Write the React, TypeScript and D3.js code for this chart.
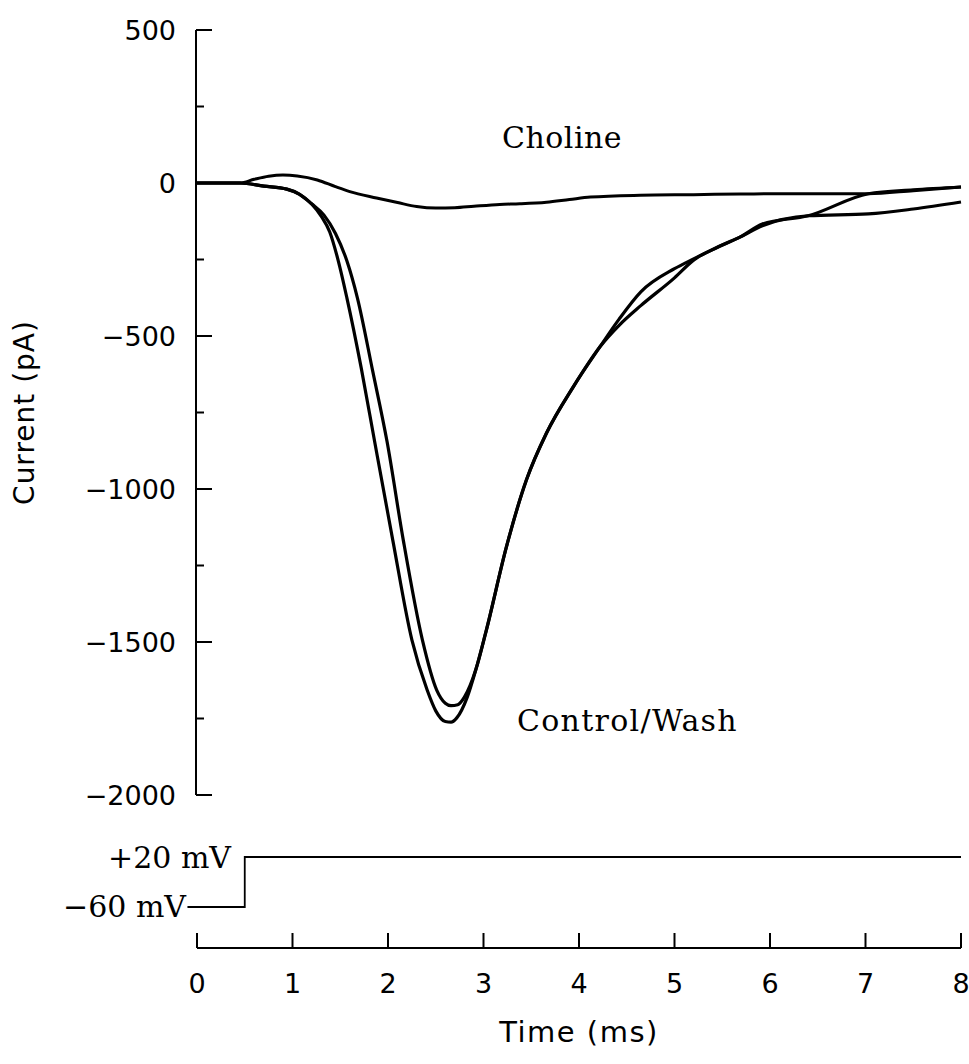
import React from "react";
import * as d3 from "d3";

// ---- Data ----
const controlT = [0, 0.45, 0.7, 0.94, 1.07, 1.2, 1.3, 1.39, 1.48, 1.57, 1.72, 1.86, 2.05, 2.25, 2.41, 2.5, 2.6, 2.66, 2.72, 2.83, 2.92, 3.03, 3.24, 3.45, 3.66, 3.94, 4.22, 4.42, 4.65, 5.0, 5.2, 5.45, 5.69, 5.92, 6.4, 7.03, 7.5, 8.0];
const controlV = [0, 0, -10, -20, -36, -68, -108, -160, -255, -376, -605, -845, -1167, -1493, -1657, -1725, -1760, -1762, -1748, -1680, -1590, -1461, -1189, -970, -817, -666, -535, -445, -355, -280, -248, -210, -176, -134, -107, -35, -22, -13];

const washT = [0, 0.45, 0.7, 0.94, 1.07, 1.2, 1.33, 1.45, 1.57, 1.68, 1.84, 1.99, 2.16, 2.36, 2.51, 2.6, 2.66, 2.73, 2.8, 2.92, 3.03, 3.24, 3.45, 3.66, 3.94, 4.22, 4.42, 4.65, 5.0, 5.2, 5.45, 5.69, 5.92, 6.4, 7.03, 7.5, 8.0];
const washV = [0, 0, -10, -20, -36, -68, -105, -165, -255, -376, -615, -845, -1167, -1493, -1657, -1700, -1708, -1705, -1680, -1590, -1461, -1189, -970, -817, -666, -535, -465, -400, -310, -252, -210, -176, -140, -107, -101, -85, -62];

const cholineT = [0, 0.45, 0.6, 0.75, 0.9, 1.05, 1.26, 1.45, 1.6, 1.88, 2.1, 2.3, 2.5, 2.7, 2.9, 3.17, 3.38, 3.66, 3.9, 4.12, 4.64, 5.2, 5.69, 6.12, 6.6, 7.03, 7.5, 8.0];
const cholineV = [0, 0, 12, 22, 26, 23, 10, -12, -28, -49, -64, -77, -82, -81, -76, -70, -68, -63, -54, -46, -40, -38, -36, -35, -35, -35, -25, -13];

const stepT = [-0.1, 0.5, 0.5, 8.0];
const stepMV = [-60, -60, 20, 20];

const yMajorTicks = [500, 0, -500, -1000, -1500, -2000];
const yMinorTicks = [250, -250, -750, -1250, -1750];
const xTicks = [0, 1, 2, 3, 4, 5, 6, 7, 8];

export default function App() {
  const W = 969, H = 1064;
  const x = d3.scaleLinear().domain([0, 8]).range([197, 961]);
  const y = d3.scaleLinear().domain([-2000, 500]).range([795, 30]);
  const vScale = d3.scaleLinear().domain([-60, 20]).range([907, 857]);
  const xAxisY = 948;
  const yAxisX = 196;

  const line = d3
    .line<[number, number]>()
    .x((d) => x(d[0]))
    .y((d) => y(d[1]))
    .curve(d3.curveMonotoneX);

  const zip = (t: number[], v: number[]) => t.map((ti, i) => [ti, v[i]] as [number, number]);

  const stepLine = d3
    .line<[number, number]>()
    .x((d) => x(d[0]))
    .y((d) => vScale(d[1]));

  const sans = "'DejaVu Sans', sans-serif";
  const serif = "'DejaVu Serif', serif";

  return (
    <svg
      width={W}
      height={H}
      viewBox={`0 0 ${W} ${H}`}
      style={{ position: "absolute", left: 0, top: 0, background: "#fff" }}
    >
      <rect x={0} y={0} width={W} height={H} fill="#fff" />
      {/* Y axis */}
      <line x1={yAxisX} x2={yAxisX} y1={y(500)} y2={y(-2000)} stroke="#000" strokeWidth={2} />
      {yMajorTicks.map((v) => (
        <g key={"ym" + v}>
          <line x1={yAxisX} x2={yAxisX + 16} y1={y(v)} y2={y(v)} stroke="#000" strokeWidth={2} />
          <text
            x={176}
            y={y(v)}
            textAnchor="end"
            dominantBaseline="central"
            fontFamily={sans}
            fontSize={27}
            fill="#000"
          >
            {v < 0 ? "\u2212" + Math.abs(v) : String(v)}
          </text>
        </g>
      ))}
      {yMinorTicks.map((v) => (
        <line key={"yn" + v} x1={yAxisX} x2={yAxisX + 8} y1={y(v)} y2={y(v)} stroke="#000" strokeWidth={2} />
      ))}
      <text
        transform={`translate(24, ${(y(500) + y(-2000)) / 2}) rotate(-90)`}
        textAnchor="middle"
        dominantBaseline="central"
        fontFamily={sans}
        fontSize={28}
        letterSpacing={1}
        fill="#000"
      >
        Current (pA)
      </text>

      {/* Current traces */}
      <path d={line(zip(cholineT, cholineV)) || ""} fill="none" stroke="#000" strokeWidth={3} strokeLinejoin="round" />
      <path d={line(zip(washT, washV)) || ""} fill="none" stroke="#000" strokeWidth={3.2} strokeLinejoin="round" />
      <path d={line(zip(controlT, controlV)) || ""} fill="none" stroke="#000" strokeWidth={3.2} strokeLinejoin="round" />

      <text x={502} y={148} fontFamily={serif} fontSize={30} letterSpacing={0.5} fill="#000">
        Choline
      </text>
      <text x={517} y={731} fontFamily={serif} fontSize={30} letterSpacing={1.3} fill="#000">
        Control/Wash
      </text>

      {/* Voltage step */}
      <path d={stepLine(zip(stepT, stepMV)) || ""} fill="none" stroke="#000" strokeWidth={1.8} />
      <text x={231} y={868} textAnchor="end" fontFamily={serif} fontSize={30} fill="#000">
        +20 mV
      </text>
      <text x={186} y={917} textAnchor="end" fontFamily={serif} fontSize={30} fill="#000">
        {"\u221260 mV"}
      </text>

      {/* X axis */}
      <line x1={x(0)} x2={x(8)} y1={xAxisY} y2={xAxisY} stroke="#000" strokeWidth={2} />
      {xTicks.map((t) => (
        <g key={"xt" + t}>
          <line x1={x(t)} x2={x(t)} y1={xAxisY} y2={xAxisY - 15} stroke="#000" strokeWidth={2} />
          <text x={x(t)} y={993} textAnchor="middle" fontFamily={sans} fontSize={27} fill="#000">
            {t}
          </text>
        </g>
      ))}
      <text
        x={(x(0) + x(8)) / 2}
        y={1042}
        textAnchor="middle"
        fontFamily={sans}
        fontSize={29}
        letterSpacing={1.5}
        fill="#000"
      >
        Time (ms)
      </text>
    </svg>
  );
}
